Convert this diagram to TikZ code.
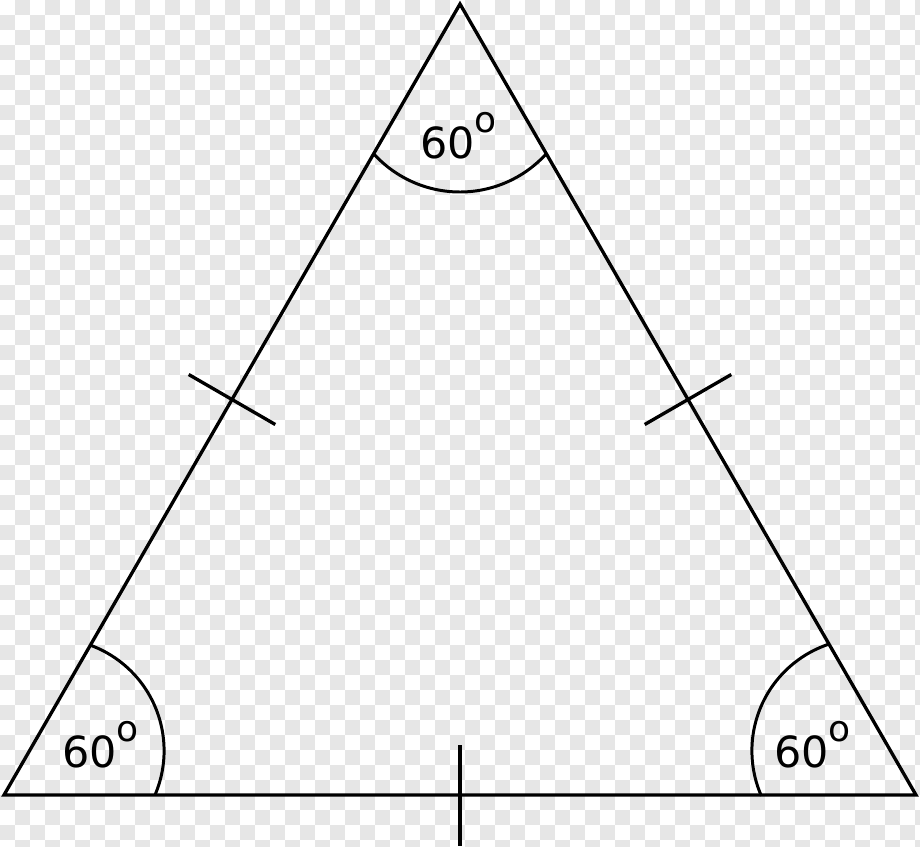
\documentclass[tikz,border=0pt]{standalone}
\usepackage{fontspec}
\setmainfont{DejaVu Sans}
\usetikzlibrary{calc}
\definecolor{checker}{HTML}{E6E6E6}
\newcommand{\degsup}{\raisebox{14.8pt}{\fontsize{20.5}{24}\selectfont o}}

\begin{document}
\begin{tikzpicture}
		[x=0.02cm, y=-0.02cm,
		 edge/.style = {line width=1.9pt, line join=miter},
		 tick/.style = {line width=1.9pt},
		 angarc/.style = {line width=1.7pt},
		 ang/.style = {anchor=base west, inner sep=0pt, font=\fontsize{24.4}{29}\selectfont}]
		\useasboundingbox (0,0) rectangle (920,846);
		\begin{scope}
			\clip (0,0) rectangle (920,846);
			\fill[white] (0,0) rectangle (920,846);
			\foreach \j in {0,...,56} {
				\pgfmathtruncatemacro{\s}{mod(\j+1,2)}
				\foreach \i in {0,...,30}
					\fill[checker] ({30*\i+15*\s},{15*\j}) rectangle +(15,15);
			}
		\end{scope}

		\coordinate (a) at (4,795);
		\coordinate (b) at (916,795);
		\coordinate (c) at (460,4);
		\draw[edge] (a) -- (b) -- (c) -- cycle;

		% equal sides
		\coordinate (ticklt) at (188.7,374.5);
		\coordinate (ticklb) at (275.3,424.5);
		\coordinate (tickrt) at (731.3,374.5);
		\coordinate (tickrb) at (644.7,424.5);
		\coordinate (tickbt) at (460,745);
		\coordinate (tickbb) at (460,846);
		\draw[tick] (ticklt) -- (ticklb);
		\draw[tick] (tickrt) -- (tickrb);
		\draw[tick] (tickbt) -- (tickbb);

		% angles
		\draw[angarc] (373,153) arc[start angle=138.3, end angle=41.7, radius=116.5];
		\draw[angarc] (155,795) arc[start angle=23.2, end angle=-70.1, radius=112.4];
		\draw[angarc] (761.3,795.8) arc[start angle=156.4, end angle=251.4, radius=112.4];

		\node[ang] (angc) at (420,158) {60\degsup};
		\node[ang] (anga) at (62,767) {60\degsup};
		\node[ang] (angb) at (774,767) {60\degsup};
	\end{tikzpicture}
\end{document}
